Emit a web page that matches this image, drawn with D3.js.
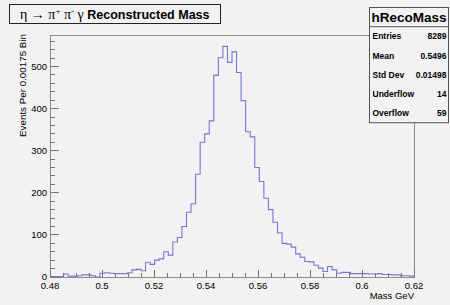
<!DOCTYPE html>
<html>
<head>
<meta charset="utf-8">
<script src="https://cdn.jsdelivr.net/npm/d3@7"></script>
<style>
  body { margin: 0; background: #f2f2f2; }
  svg { display: block; }
  text { font-family: "Liberation Sans", Arial, sans-serif; fill: #000; }
</style>
</head>
<body>
<svg id="chart" width="450" height="305"></svg>
<script>
// histogram hRecoMass, 80 bins from 0.48 to 0.62
const binLow = 0.48, binHigh = 0.62, binWidth = 0.00175;
const binCounts = [
  1, 1, 1, 7, 2, 2, 3, 5, 5, 3, 0, 9, 10, 9, 8, 8, 8, 10, 17, 18, 15,
  35, 30, 40, 43, 60, 52, 83, 94, 120, 154, 174, 244, 320, 340, 371, 479, 521, 548,
  510, 535, 486, 419, 345, 333, 260, 227, 187, 160, 130, 105, 80, 78, 71, 55, 47, 37, 36, 28,
  21, 13, 25, 17, 9, 11, 11, 8, 8, 8, 8, 7, 7, 8, 6, 6, 5, 5, 3, 3, 2
];
const xTicks = [0.48, 0.5, 0.52, 0.54, 0.56, 0.58, 0.6, 0.62];
const xTickLabels = ["0.48", "0.5", "0.52", "0.54", "0.56", "0.58", "0.6", "0.62"];
const yTicks = [0, 100, 200, 300, 400, 500];
const statNames = ["Entries", "Mean", "Std Dev", "Underflow", "Overflow"];
const statValues = ["8289", "0.5496", "0.01498", "14", "59"];
const yMax = 575;

let svg = d3.select("#chart");
let x = d3.scaleLinear().domain([binLow, binHigh]).range([50, 414]);
let y = d3.scaleLinear().domain([0, yMax]).range([277, 35]);

// frame
svg.append("rect")
  .attr("x", x(binLow)).attr("y", y(yMax))
  .attr("width", x(binHigh) - x(binLow)).attr("height", y(0) - y(yMax))
  .attr("fill", "none").attr("stroke", "#8a8a8a").attr("stroke-width", 1)
  .attr("shape-rendering", "crispEdges");

// histogram outline
let pts = [];
binCounts.forEach((c, i) => {
  let lo = binLow + i * binWidth, hi = lo + binWidth;
  pts.push([x(lo), y(c)], [x(hi), y(c)]);
});
svg.append("path")
  .attr("d", d3.line()(pts))
  .attr("fill", "none")
  .attr("stroke", "#7676d6")
  .attr("stroke-width", 1.1);

// x axis ticks (major every 0.02, minor every 0.005)
let gx = svg.append("g").attr("shape-rendering", "crispEdges");
d3.range(0, 29).map(i => binLow + i * 0.005).forEach((v, i) => {
  let len = i % 4 === 0 ? 7 : 3.6;
  gx.append("line")
    .attr("x1", x(v)).attr("x2", x(v))
    .attr("y1", y(0)).attr("y2", y(0) - len)
    .attr("stroke", "#777");
});
gx.selectAll("text.xl").data(xTicks).enter().append("text")
  .attr("x", d => x(d)).attr("y", 289)
  .attr("text-anchor", "middle")
  .style("font-size", "9.5px")
  .text((d, i) => xTickLabels[i]);

// y axis ticks (major every 100, minor every 20)
let gy = svg.append("g").attr("shape-rendering", "crispEdges");
d3.range(0, 29).map(i => i * 20).forEach((v, i) => {
  let len = i % 5 === 0 ? 9 : 4.5;
  gy.append("line")
    .attr("x1", x(binLow)).attr("x2", x(binLow) + len)
    .attr("y1", y(v)).attr("y2", y(v))
    .attr("stroke", "#777");
});
gy.selectAll("text.yl").data(yTicks).enter().append("text")
  .attr("x", 47).attr("y", d => y(d) + (d === 0 ? 2.5 : 3.5))
  .attr("text-anchor", "end")
  .style("font-size", "9.5px")
  .text(d => d);

// axis titles
svg.append("text")
  .attr("x", 414).attr("y", 299)
  .attr("text-anchor", "end")
  .style("font-size", "9.5px")
  .text("Mass GeV");
svg.append("text")
  .attr("transform", "translate(26,34) rotate(-90)")
  .attr("text-anchor", "end")
  .style("font-size", "9.8px")
  .text("Events Per 0.00175 Bin");

// title box
svg.append("rect")
  .attr("x", 9.5).attr("y", 4.5).attr("width", 211).attr("height", 19)
  .attr("fill", "#f2f2f2").attr("stroke", "#222");
let title = svg.append("text").attr("x", 20).attr("y", 19);
title.append("tspan").style("font-family", "Liberation Serif, serif").style("font-size", "14px").text("η → π");
title.append("tspan").style("font-family", "Liberation Serif, serif").style("font-size", "9px").attr("dy", -5).text("+");
title.append("tspan").style("font-family", "Liberation Serif, serif").style("font-size", "14px").attr("dy", 5).text(" π");
title.append("tspan").style("font-family", "Liberation Serif, serif").style("font-size", "9px").attr("dy", -5).text("-");
title.append("tspan").style("font-family", "Liberation Serif, serif").style("font-size", "14px").attr("dy", 5).text(" γ ");
title.append("tspan").style("font-size", "12.5px").style("font-weight", "bold").text("Reconstructed Mass");

// stats box
let sx = 369.5, sy = 7.5, sw = 79, rowH = 19.2;
svg.append("rect")
  .attr("x", sx).attr("y", sy).attr("width", sw).attr("height", rowH * 6)
  .attr("fill", "#f2f2f2").attr("stroke", "#555");
svg.append("line")
  .attr("x1", sx).attr("x2", sx + sw)
  .attr("y1", sy + rowH).attr("y2", sy + rowH)
  .attr("stroke", "#555");
svg.append("text")
  .attr("x", sx + sw / 2).attr("y", sy + rowH / 2 + 5)
  .attr("text-anchor", "middle")
  .style("font-size", "13.5px").style("font-weight", "bold")
  .text("hRecoMass");
statNames.forEach((n, i) => {
  let cy = sy + rowH * (i + 1.5) + 3;
  svg.append("text").attr("x", sx + 3).attr("y", cy)
    .style("font-size", "8.5px").style("font-weight", "bold").text(n);
  svg.append("text").attr("x", sx + sw - 2).attr("y", cy)
    .attr("text-anchor", "end")
    .style("font-size", "8.5px").style("font-weight", "bold").text(statValues[i]);
});
</script>
</body>
</html>
